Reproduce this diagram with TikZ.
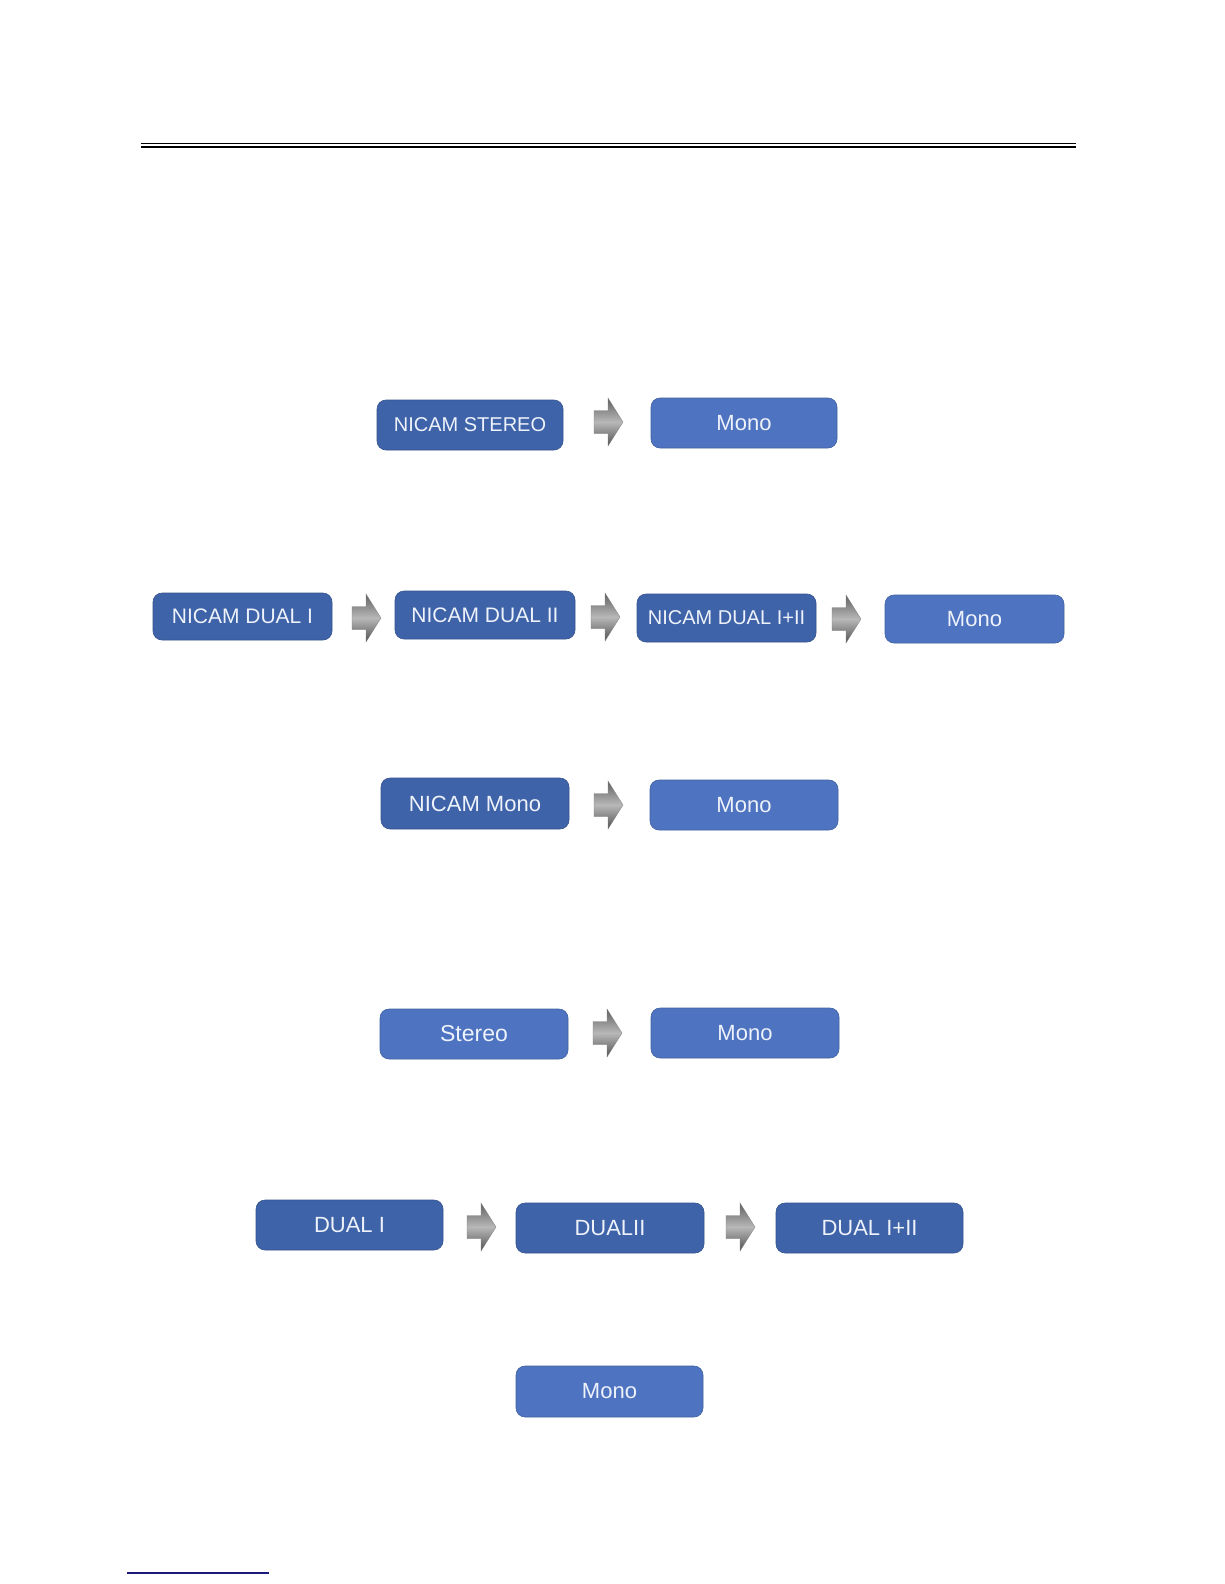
\documentclass[tikz,border=0pt]{standalone}
\usepackage{fontspec}
\setmainfont{Liberation Sans}
\definecolor{boxdark}{HTML}{3F63A8}
\definecolor{boxlight}{HTML}{4E73C0}
\definecolor{boxtext}{HTML}{EEF2FA}
\definecolor{navyline}{HTML}{1A1A7A}
\tikzset{
  btn/.style={rounded corners=9pt, inner sep=0pt, text=boxtext,
    font=\fontsize{20}{22}\selectfont, draw=#1!85!black, line width=0.6pt, fill=#1},
  dk/.style={btn=boxdark},
  lt/.style={btn=boxlight},
  big/.style={font=\fontsize{22}{24}\selectfont},
  mid/.style={font=\fontsize{21}{23}\selectfont},
  pics/blkarrow/.style={code={
    \shade[top color=black!62, bottom color=black!68, middle color=black!28, draw=black!50, line width=0.3pt]
      (0,-11.5) -- (14,-11.5) -- (14,-24) -- (29,0) -- (14,24) -- (14,11.5) -- (0,11.5) -- cycle;
  }}
}
\begin{document}
\begin{tikzpicture}[x=1pt,y=-1pt]
\useasboundingbox (0,0) rectangle (1224,1584);
\fill[white] (0,0) rectangle (1224,1584);
% top double rule
\draw[line width=1.4pt] (141,143.5) -- (1076,143.5);
\draw[line width=1.4pt] (141,147) -- (1076,147);
% row 1
\node[dk, minimum width=186pt, minimum height=50pt] (ns) at (470,425) {NICAM STEREO};
\node[lt, big, minimum width=186pt, minimum height=50pt] (m1) at (744,423) {Mono};
\pic at (594,422) {blkarrow};
% row 2
\node[dk, mid, minimum width=179pt, minimum height=47pt] (nd1) at (242.5,616.5) {NICAM DUAL I};
\node[dk, mid, minimum width=180pt, minimum height=48pt] (nd2) at (485,615) {NICAM DUAL II};
\node[dk, minimum width=179pt, minimum height=48pt] (nd3) at (726.5,618) {NICAM DUAL I+II};
\node[lt, big, minimum width=179pt, minimum height=48pt] (m2) at (974.5,619) {Mono};
\pic at (352,618) {blkarrow};
\pic at (591,617) {blkarrow};
\pic at (832,619) {blkarrow};
% row 3
\node[dk, big, minimum width=188pt, minimum height=51pt] (nm) at (475,803.5) {NICAM Mono};
\node[lt, big, minimum width=188pt, minimum height=50pt] (m3) at (744,805) {Mono};
\pic at (594,805) {blkarrow};
% row 4
\node[lt, font=\fontsize{23}{25}\selectfont, minimum width=188pt, minimum height=50pt] (st) at (474,1034) {Stereo};
\node[lt, big, minimum width=188pt, minimum height=50pt] (m4) at (745,1033) {Mono};
\pic at (593,1033) {blkarrow};
% row 5
\node[dk, big, minimum width=187pt, minimum height=50pt] (d1) at (349.5,1225) {DUAL I};
\node[dk, big, minimum width=188pt, minimum height=50pt] (d2) at (610,1228) {DUALII};
\node[dk, big, minimum width=187pt, minimum height=50pt] (d3) at (869.5,1228) {DUAL I+II};
\pic at (467,1227) {blkarrow};
\pic at (726,1227) {blkarrow};
% row 6
\node[lt, big, minimum width=187pt, minimum height=51pt] (m5) at (609.5,1391.5) {Mono};
% bottom line
\draw[navyline, line width=2pt] (127,1573) -- (269,1573);
\end{tikzpicture}
\end{document}
